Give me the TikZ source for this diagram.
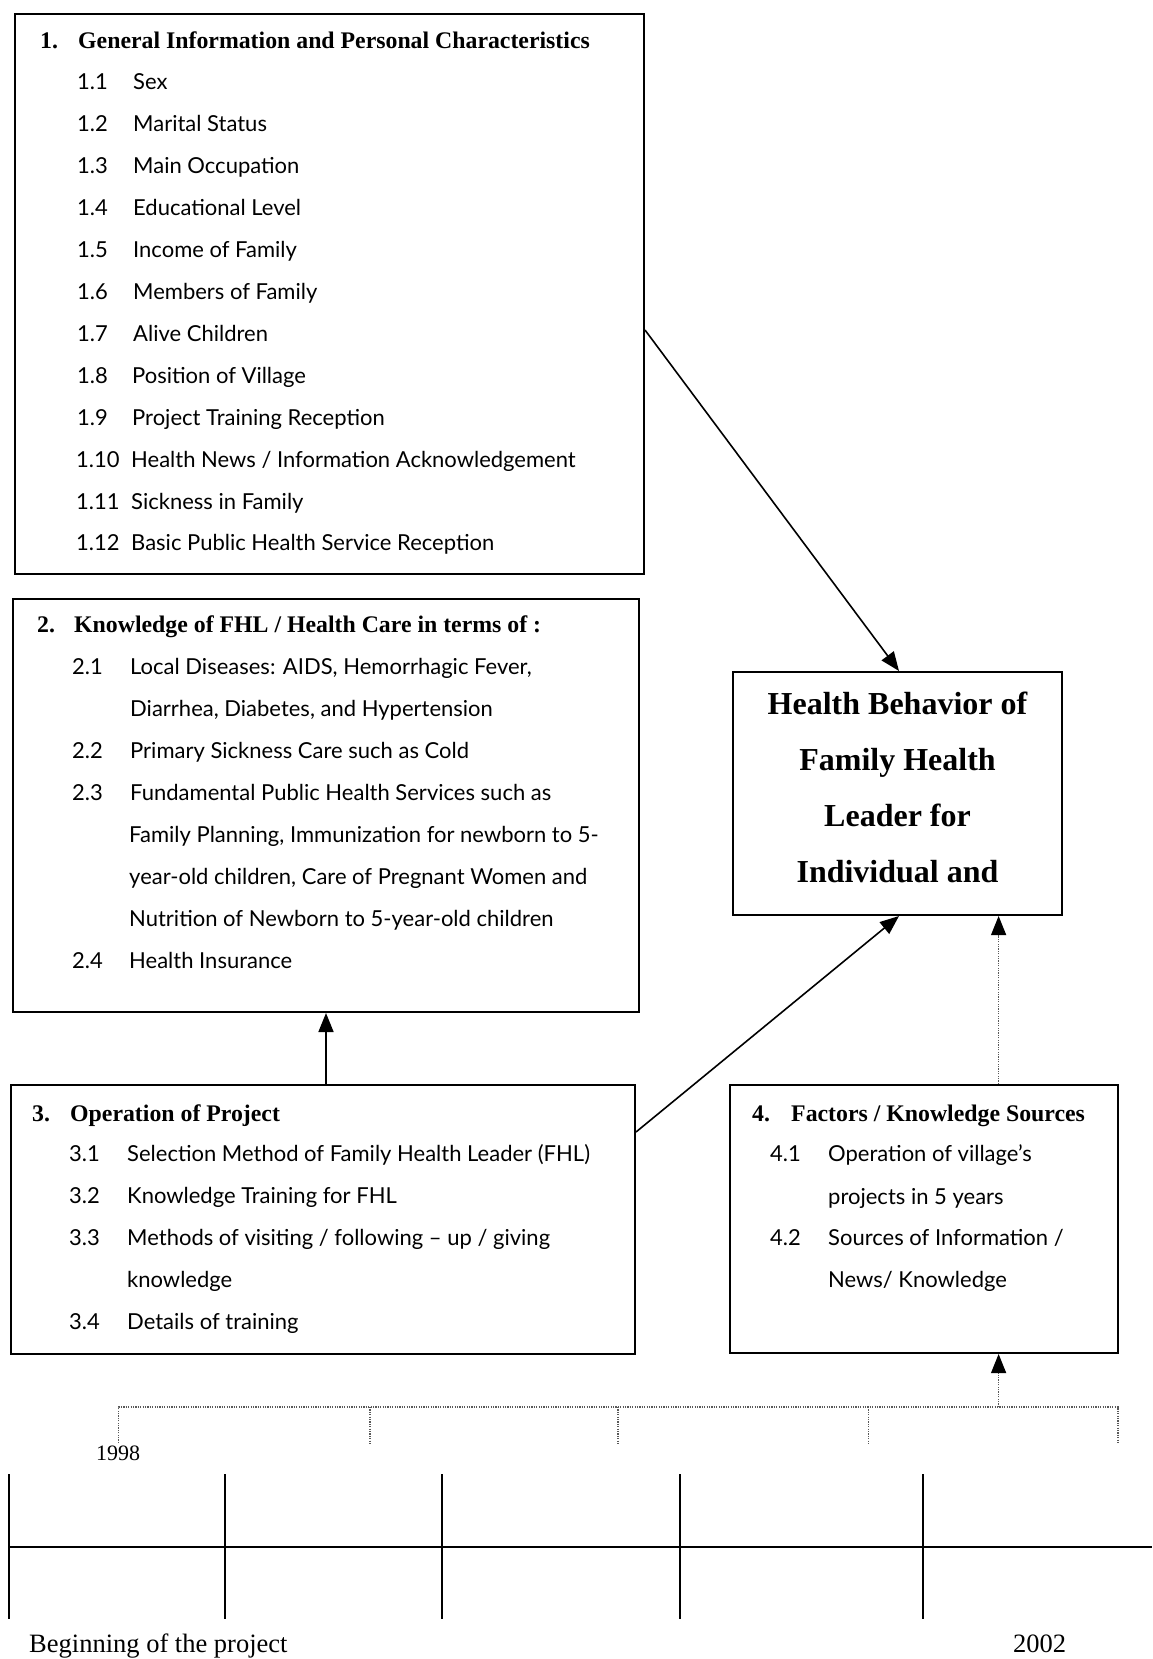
\documentclass[tikz,border=0pt]{standalone}
\usepackage{fontspec}
\setmainfont{Liberation Serif}
\newfontfamily\itemfont[Ligatures=TeX]{Lato}
\usetikzlibrary{arrows.meta,calc}
\tikzset{
  box/.style={draw, line width=2pt, inner sep=0pt},
  hd/.style={anchor=base west, inner sep=0pt, font=\bfseries\fontsize{23.8}{28}\selectfont},
  itm/.style={anchor=base west, inner sep=0pt, font=\itemfont\fontsize{22}{26}\selectfont},
  arr/.style={line width=1.6pt, -{Triangle[length=19pt,width=15pt]}},
  dotarr/.style={line width=1.2pt, gray!70!black, dash pattern=on 1.2pt off 1.2pt, -{Triangle[length=19pt,width=15pt,color=black]}},
  dotln/.style={line width=1.2pt, gray!70!black, dash pattern=on 1.2pt off 1.2pt},
  tl/.style={line width=2pt},
  tlbl/.style={inner sep=0pt, font=\fontsize{26.5}{30}\selectfont},
}
\begin{document}
\begin{tikzpicture}[x=1pt,y=-1pt]
\useasboundingbox[fill=white] (0,0) rectangle (1152,1659);

% Boxes
\node[box, minimum width=629pt, minimum height=560pt] (b1) at (329.5,294) {};
\node[box, minimum width=626pt, minimum height=413pt] (b2) at (326,805.5) {};
\node[box, minimum width=624pt, minimum height=269pt] (b3) at (323,1219.5) {};
\node[box, minimum width=388pt, minimum height=268pt] (b4) at (924,1219) {};
\node[box, minimum width=329pt, minimum height=243pt] (h) at (897.5,793.5) {};
\node[inner sep=0pt, align=center, font=\bfseries\fontsize{32}{56}\selectfont] (ht) at (897.5,787.8)
  {Health Behavior of\\Family Health\\Leader for\\Individual and};

% Box 1
\node[hd] (h1n) at (40,49) {1.};
\node[hd] (h1t) at (78,49) {General Information and Personal Characteristics};
\node[itm] (n11) at (77,90) {1.1};    \node[itm] (t11) at (133,90) {Sex};
\node[itm] (n12) at (77,131.9) {1.2}; \node[itm] (t12) at (133,131.9) {Marital Status};
\node[itm] (n13) at (77,173.8) {1.3}; \node[itm] (t13) at (133,173.8) {Main Occupation};
\node[itm] (n14) at (77,215.7) {1.4}; \node[itm] (t14) at (133,215.7) {Educational Level};
\node[itm] (n15) at (77,257.6) {1.5}; \node[itm] (t15) at (133,257.6) {Income of Family};
\node[itm] (n16) at (77,299.5) {1.6}; \node[itm] (t16) at (133,299.5) {Members of Family};
\node[itm] (n17) at (77,341.4) {1.7}; \node[itm] (t17) at (133,341.4) {Alive Children};
\node[itm] (n18) at (77,383.3) {1.8}; \node[itm] (t18) at (132,383.3) {Position of Village};
\node[itm] (n19) at (77,425.2) {1.9}; \node[itm] (t19) at (132,425.2) {Project Training Reception};
\node[itm] (n110) at (76,467.1) {1.10}; \node[itm] (t110) at (131,467.1) {Health News / Information Acknowledgement};
\node[itm] (n111) at (76,509) {1.11}; \node[itm] (t111) at (131,509) {Sickness in Family};
\node[itm] (n112) at (76,550.9) {1.12}; \node[itm] (t112) at (131,550.9) {Basic Public Health Service Reception};

% Box 2
\node[hd] (h2n) at (37,632) {2.};
\node[hd] (h2t) at (74,632) {Knowledge of FHL / Health Care in terms of :};
\node[itm] (n21) at (72,674) {2.1}; \node[itm] (t21) at (130,674) {Local Diseases: AIDS, Hemorrhagic Fever,};
\node[itm] (t21b) at (130,716) {Diarrhea, Diabetes, and Hypertension};
\node[itm] (n22) at (72,758) {2.2}; \node[itm] (t22) at (130,758) {Primary Sickness Care such as Cold};
\node[itm] (n23) at (72,800) {2.3}; \node[itm] (t23) at (130,800) {Fundamental Public Health Services such as};
\node[itm] (t23b) at (129,842) {Family Planning, Immunization for newborn to 5-};
\node[itm] (t23c) at (129,884) {year-old children, Care of Pregnant Women and};
\node[itm] (t23d) at (129,926) {Nutrition of Newborn to 5-year-old children};
\node[itm] (n24) at (72,968) {2.4}; \node[itm] (t24) at (129,968) {Health Insurance};

% Box 3
\node[hd] (h3n) at (32,1121) {3.};
\node[hd] (h3t) at (70,1121) {Operation of Project};
\node[itm] (n31) at (69,1161) {3.1}; \node[itm] (t31) at (127,1161) {Selection Method of Family Health Leader (FHL)};
\node[itm] (n32) at (69,1203) {3.2}; \node[itm] (t32) at (127,1203) {Knowledge Training for FHL};
\node[itm] (n33) at (69,1245.5) {3.3}; \node[itm] (t33) at (127,1245.5) {Methods of visiting / following – up / giving};
\node[itm] (t33b) at (127,1287.5) {knowledge};
\node[itm] (n34) at (69,1329.5) {3.4}; \node[itm] (t34) at (127,1329.5) {Details of training};

% Box 4
\node[hd] (h4n) at (752,1121) {4.};
\node[hd] (h4t) at (791,1121) {Factors / Knowledge Sources};
\node[itm] (n41) at (770,1161.5) {4.1}; \node[itm] (t41) at (828,1161.5) {Operation of village’s};
\node[itm] (t41b) at (828,1204) {projects in 5 years};
\node[itm] (n42) at (770,1245.5) {4.2}; \node[itm] (t42) at (828,1245.5) {Sources of Information /};
\node[itm] (t42b) at (828,1287.5) {News/ Knowledge};

% Connectors
\coordinate (s1) at (b1.east |- 0,330);
\draw[arr] (s1) -- ($(h.north)+(1.5,0)$);
\coordinate (s3) at (b3.east |- 0,1132);
\draw[arr] (s3) -- ($(h.south)+(1.5,0)$);
\draw[arr] (b2.south |- b3.north) -- (b2.south);
\coordinate (d4top) at (998.6,0);
\draw[dotarr] (d4top |- b4.north) -- (d4top |- h.south);

% Timeline bracket (dotted)
\coordinate (k0) at (118.5,1407);
\coordinate (k1) at (370,1407);
\coordinate (k2) at (618,1407);
\coordinate (k3) at (868.5,1407);
\coordinate (k4) at (1118,1407);
\coordinate (kup) at (998.6,1407);
\draw[dotln] ($(k0)+(0,36)$) -- (k0) -- (k4) -- ($(k4)+(0,37)$);
\draw[dotln] (k1) -- ($(k1)+(0,37)$);
\draw[dotln] (k2) -- ($(k2)+(0,37)$);
\draw[dotln] (k3) -- ($(k3)+(0,37)$);
\draw[dotarr] (kup) -- (d4top |- b4.south);

\node[inner sep=0pt, anchor=base, font=\fontsize{22}{26}\selectfont] (y1998) at (118,1460) {1998};

% Solid timeline
\coordinate (t0) at (8.5,1547);
\coordinate (tend) at (1152,1547);
\draw[tl] (t0) -- (tend);
\foreach \x in {8.5,225,442,680,922.5} {
  \draw[tl] (\x,1474) -- (\x,1619);
}
\node[tlbl, anchor=base west] (beg) at (29,1652) {Beginning of the project};
\node[tlbl, anchor=base west] (y2002) at (1013,1652) {2002};
\end{tikzpicture}
\end{document}
